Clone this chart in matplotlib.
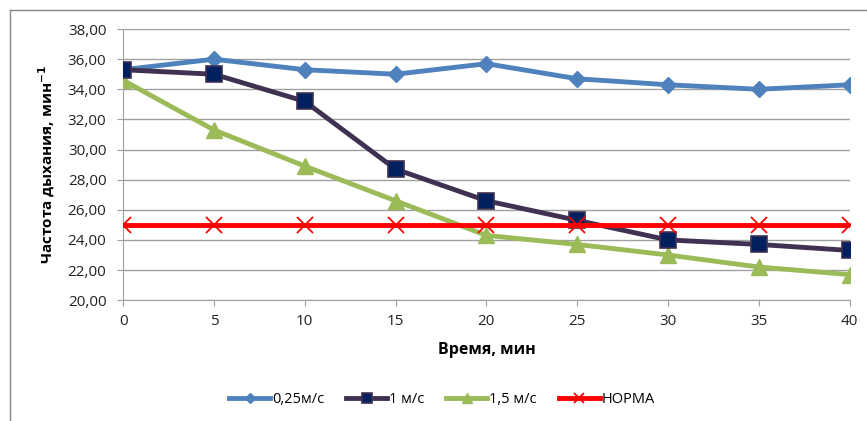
import matplotlib.pyplot as plt
from matplotlib.lines import Line2D

plt.rcParams['font.family'] = ['Open Sans', 'DejaVu Sans']

minutes = [0, 5, 10, 15, 20, 25, 30, 35, 40]
v025 = [35.3, 36.0, 35.3, 35.0, 35.7, 34.7, 34.3, 34.0, 34.3]
v1 = [35.3, 35.0, 33.2, 28.7, 26.6, 25.3, 24.0, 23.7, 23.3]
v15 = [34.6, 31.3, 28.9, 26.6, 24.3, 23.7, 23.0, 22.2, 21.7]
norma = [25, 25, 25, 25, 25, 25, 25, 25, 25]
yticks = [20, 22, 24, 26, 28, 30, 32, 34, 36, 38]

fig = plt.figure(figsize=(8.67, 4.21), dpi=100)
# chart border (only left and top edges are inside the picture)
fig.lines.append(Line2D([0.011, 0.011], [0.0, 0.976], transform=fig.transFigure, color='#888888', lw=1))
fig.lines.append(Line2D([0.011, 1.0], [0.976, 0.976], transform=fig.transFigure, color='#888888', lw=1))
ax = fig.add_axes([0.142, 0.287, 0.838, 0.644])

ax.plot(minutes, v025, color='#4F81BD', lw=3.5, marker='D', ms=8, label='0,25м/с', zorder=3)
ax.plot(minutes, v1, color='#403152', lw=3.5, marker='s', ms=12, mfc='#002060',
        mec='#403152', mew=1.2, label='1 м/с', zorder=4)
ax.plot(minutes, v15, color='#9BBB59', lw=3.5, marker='^', ms=11, label='1,5 м/с', zorder=3)
ax.plot(minutes, norma, color='#FF0000', lw=3.5, marker='x', ms=11, mew=1.3, label='НОРМА', zorder=5)

ax.set_xlim(0, 40)
ax.set_ylim(20, 38)
ax.set_xticks(minutes)
ax.set_yticks(yticks)
ax.set_yticklabels([f'{t:.2f}'.replace('.', ',') for t in yticks])
ax.grid(axis='y', color='#a0a0a0', lw=1)
ax.set_axisbelow(True)
for s in ['top', 'right']:
    ax.spines[s].set_visible(False)
for s in ['left', 'bottom']:
    ax.spines[s].set_color('#a0a0a0')
ax.tick_params(axis='both', colors='#a0a0a0', labelcolor='#222222', labelsize=11, length=4, direction='out')
ax.tick_params(axis='y', pad=8)
ax.tick_params(axis='x', pad=6)

ax.set_xlabel('Время, мин', fontsize=11.5, fontweight='bold', labelpad=9)
ax.set_ylabel(r'Частота дыхания, мин$^{\mathbf{-1}}$', fontsize=11, fontweight='bold', labelpad=8)

fig.legend(loc='center', bbox_to_anchor=(0.51, 0.052), ncol=4, frameon=False, fontsize=10.5,
           numpoints=1, handlelength=2.8, handletextpad=0.15, columnspacing=1.5, markerscale=0.65)

plt.savefig('out.png', dpi=100)
